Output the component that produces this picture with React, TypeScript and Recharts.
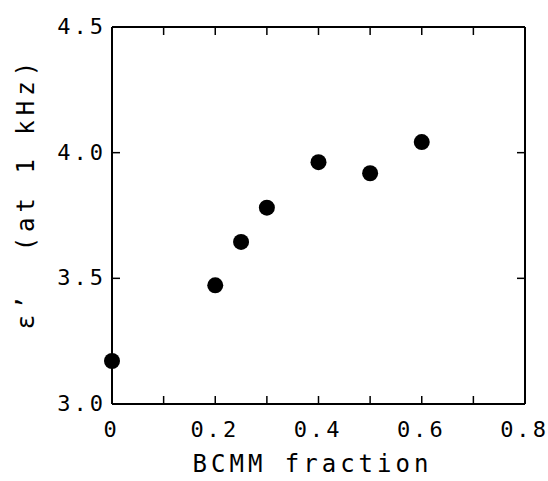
import { ScatterChart, Scatter, XAxis, YAxis, Label } from 'recharts'

// BCMM fraction vs dielectric constant at 1 kHz
const fractions = [0, 0.2, 0.25, 0.3, 0.4, 0.5, 0.6]
const permittivity = [3.171, 3.472, 3.645, 3.781, 3.962, 3.918, 4.042]

const xTicks = [0, 0.1, 0.2, 0.3, 0.4, 0.5, 0.6, 0.7, 0.8]
const xLabeled = [0, 0.2, 0.4, 0.6, 0.8]
const yTicks = [3.0, 3.5, 4.0, 4.5]

const data = fractions.map((x, i) => ({ x, y: permittivity[i] }))

const FONT = '"DejaVu Sans Mono", "Liberation Mono", monospace'
const TICK_LEN = 8

function fmtX(v: number) {
  return v === 0 ? '0' : v.toFixed(1)
}

// letter spacing on every glyph but the last, so no trailing gap
function Spaced({ s, ls }: { s: string; ls: number }) {
  if (s.length < 2) return <>{s}</>
  return (
    <>
      <tspan letterSpacing={ls} style={{ whiteSpace: 'pre' }}>{s.slice(0, -1)}</tspan>
      <tspan>{s.slice(-1)}</tspan>
    </>
  )
}

const BottomTick = (props: any) => {
  const { x, y, payload } = props
  const v = payload.value
  const labeled = xLabeled.some((t) => Math.abs(t - v) < 1e-6)
  return (
    <g>
      <line x1={x} x2={x} y1={y} y2={y - TICK_LEN} stroke="#000" strokeWidth={1.5} />
      {labeled && (
        <text x={x - 2} y={y + 33} textAnchor="middle" fontSize={22} fontFamily={FONT} fill="#000">
          <Spaced s={fmtX(v)} ls={3} />
        </text>
      )}
    </g>
  )
}

const TopTick = (props: any) => {
  const { x, y } = props
  return <line x1={x} x2={x} y1={y} y2={y + TICK_LEN} stroke="#000" strokeWidth={1.5} />
}

const LeftTick = (props: any) => {
  const { x, y, payload } = props
  return (
    <g>
      <line x1={x} x2={x + TICK_LEN} y1={y} y2={y} stroke="#000" strokeWidth={1.5} />
      <text x={x - 9} y={y + 7} textAnchor="end" fontSize={22} fontFamily={FONT} fill="#000">
        <Spaced s={Number(payload.value).toFixed(1)} ls={3} />
      </text>
    </g>
  )
}

const RightTick = (props: any) => {
  const { x, y } = props
  return <line x1={x} x2={x - TICK_LEN} y1={y} y2={y} stroke="#000" strokeWidth={1.5} />
}

const Dot = (props: any) => <circle cx={props.cx} cy={props.cy} r={8} fill="#000" />
const NoDot = () => <g />

const axisLine = { stroke: '#000', strokeWidth: 2 }

export default function App() {
  return (
    <div style={{ position: 'absolute', left: 0, top: 0, background: '#fff' }}>
      <ScatterChart width={548} height={481} margin={{ top: 26, right: 22, bottom: 0, left: 0 }}>
        <XAxis
          xAxisId="bottom"
          dataKey="x"
          type="number"
          domain={[0, 0.8]}
          ticks={xTicks}
          interval={0}
          height={77}
          tickSize={0}
          tickMargin={0}
          tickLine={false}
          axisLine={axisLine}
          tick={BottomTick}
        >
          <Label
            content={(p: any) => {
              const vb = p.viewBox
              return (
                <text
                  x={vb.x + vb.width / 2 - 8}
                  y={vb.y + 68}
                  textAnchor="middle"
                  fontSize={24}
                  fontFamily={FONT}
                  fill="#000"
                >
                  <Spaced s="BCMM fraction" ls={4} />
                </text>
              )
            }}
          />
        </XAxis>
        <XAxis
          xAxisId="top"
          orientation="top"
          dataKey="x"
          type="number"
          domain={[0, 0.8]}
          ticks={xTicks}
          interval={0}
          height={1}
          tickSize={0}
          tickMargin={0}
          tickLine={false}
          axisLine={axisLine}
          tick={TopTick}
        />
        <YAxis
          yAxisId="left"
          dataKey="y"
          type="number"
          domain={[3, 4.5]}
          ticks={yTicks}
          interval={0}
          width={112}
          tickSize={0}
          tickMargin={0}
          tickLine={false}
          axisLine={axisLine}
          tick={LeftTick}
        >
          <Label
            content={(p: any) => {
              const vb = p.viewBox
              const cx = vb.x + 34
              const cy = vb.y + vb.height / 2 - 20
              return (
                <text
                  x={cx}
                  y={cy}
                  transform={`rotate(-90, ${cx}, ${cy})`}
                  textAnchor="middle"
                  fontSize={24}
                  fontFamily={FONT}
                  fill="#000"
                >
                  <Spaced s={'ε’  (at 1 kHz)'} ls={5} />
                </text>
              )
            }}
          />
        </YAxis>
        <YAxis
          yAxisId="right"
          orientation="right"
          dataKey="y"
          type="number"
          domain={[3, 4.5]}
          ticks={yTicks}
          interval={0}
          width={1}
          tickSize={0}
          tickMargin={0}
          tickLine={false}
          axisLine={axisLine}
          tick={RightTick}
        />
        {/* invisible series so the top / right frame axes get their ticks */}
        <Scatter
          data={data}
          xAxisId="top"
          yAxisId="right"
          shape={NoDot}
          isAnimationActive={false}
        />
        <Scatter
          data={data}
          xAxisId="bottom"
          yAxisId="left"
          fill="#000"
          shape={Dot}
          isAnimationActive={false}
        />
      </ScatterChart>
    </div>
  )
}
